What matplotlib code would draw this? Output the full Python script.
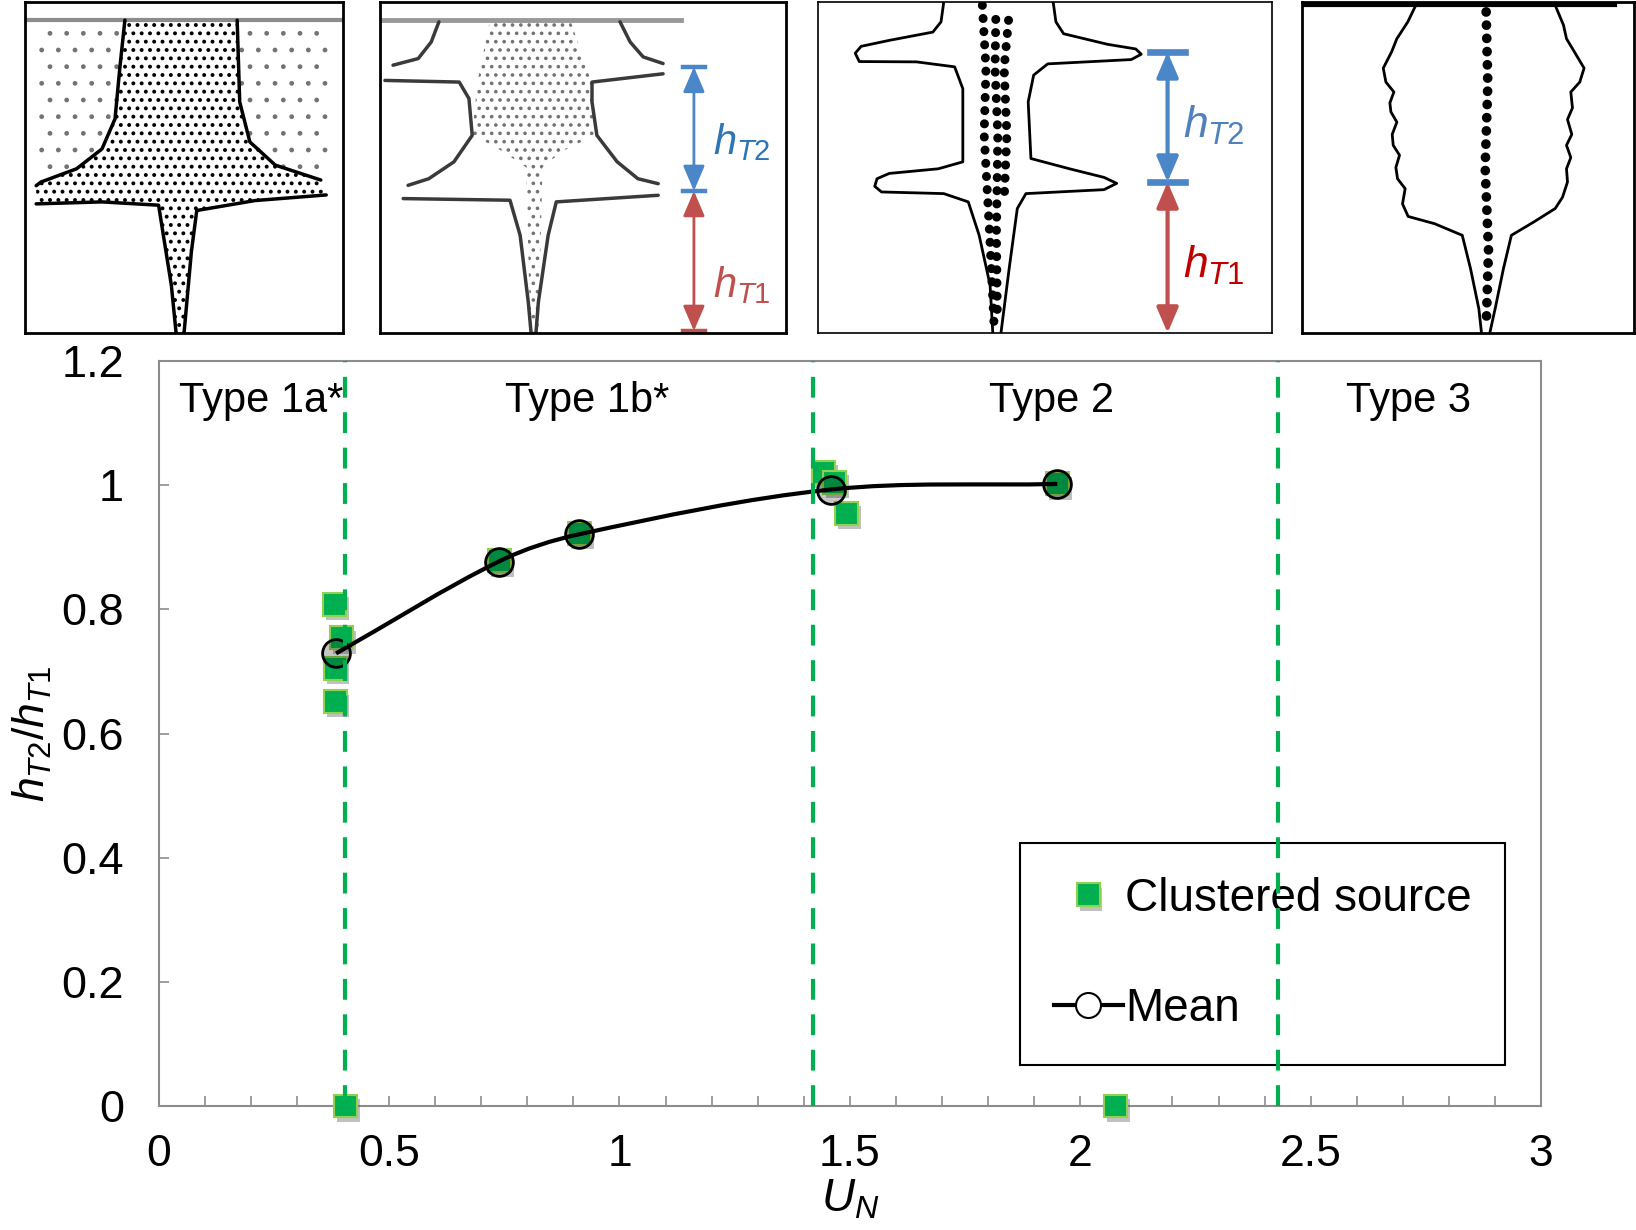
import numpy as np
import matplotlib.pyplot as plt
from matplotlib.ticker import MultipleLocator
from matplotlib.path import Path
from matplotlib.patches import PathPatch, Polygon
from matplotlib.lines import Line2D
import matplotlib.patheffects as pe

plt.rcParams['font.family'] = ['Liberation Sans', 'DejaVu Sans']
plt.rcParams['mathtext.fontset'] = 'custom'
plt.rcParams['mathtext.it'] = 'Liberation Sans:italic'
plt.rcParams['mathtext.rm'] = 'Liberation Sans'

# --- dane ---
un_cluster = [0.382, 0.397, 0.383, 0.383, 0.405, 0.74, 0.913, 1.443, 1.467, 1.493, 1.95, 2.077]
r_cluster = [0.808, 0.754, 0.705, 0.651, 0.0, 0.878, 0.922, 1.020, 1.005, 0.955, 1.002, 0.0]
un_mean = [0.385, 0.738, 0.913, 1.458, 1.95]
r_mean = [0.729, 0.877, 0.921, 0.993, 1.002]
granice = [0.405, 1.42, 2.43]
typy = ['Type 1a*', 'Type 1b*', 'Type 2', 'Type 3']
typy_x = [0.222, 0.93, 1.937, 2.713]

zielony = '#00B050'
jasnozielony = '#92D050'
niebieski = '#4A86C8'
czerwony = '#C0504D'


def gladka(xs, ys):
    # wygladzona linia (Hermite w x, bez petli)
    x = np.asarray(xs, float)
    y = np.asarray(ys, float)
    n = len(x)
    m = np.empty(n)
    m[0] = (y[1] - y[0]) / (x[1] - x[0])
    m[-1] = (y[-1] - y[-2]) / (x[-1] - x[-2])
    for i in range(1, n - 1):
        m[i] = (y[i + 1] - y[i - 1]) / (x[i + 1] - x[i - 1])
    verts = [(x[0], y[0])]
    codes = [Path.MOVETO]
    for i in range(n - 1):
        d = (x[i + 1] - x[i]) / 3.0
        verts += [(x[i] + d, y[i] + m[i] * d), (x[i + 1] - d, y[i + 1] - m[i + 1] * d),
                  (x[i + 1], y[i + 1])]
        codes += [Path.CURVE4] * 3
    return Path(verts, codes)


fig = plt.figure(figsize=(16.36, 12.30), dpi=100)

# ---------------- glowny wykres ----------------
ax = fig.add_axes([0.097, 0.1008, 0.845, 0.6057])
ax.set_xlim(0, 3)
ax.set_ylim(0, 1.2)

for g in granice:
    ax.axvline(g, color=zielony, lw=3, ls=(0, (5, 3.5)), zorder=6)

cien = [pe.SimplePatchShadow(offset=(2, -3), shadow_rgbFace='0.3', alpha=0.35), pe.Normal()]
kw, = ax.plot(un_cluster, r_cluster, ls='none', marker='s', ms=16.5, mfc=zielony,
              mec=jasnozielony, mew=1.5, zorder=3, clip_on=False, path_effects=cien,
              label='Clustered source')
ax.add_patch(PathPatch(gladka(un_mean, r_mean), fc='none', ec='k', lw=3, zorder=4))
ax.plot(un_mean, r_mean, ls='none', marker='o', ms=20, mfc=(0, 0, 0, 0.22),
        mec='k', mew=2, zorder=5)

for t, x in zip(typy, typy_x):
    ax.text(x, 1.136, t, ha='center', va='center', fontsize=30)

ax.set_xticks([0, 0.5, 1, 1.5, 2, 2.5, 3])
ax.set_xticklabels(['0', '0.5', '1', '1.5', '2', '2.5', '3'])
ax.xaxis.set_minor_locator(MultipleLocator(0.1))
ax.set_yticks([0, 0.2, 0.4, 0.6, 0.8, 1.0, 1.2])
ax.set_yticklabels(['0', '0.2', '0.4', '0.6', '0.8', '1', '1.2'])
ax.tick_params(axis='x', which='both', direction='in', length=7, width=1.2,
               color='#8c8c8c', labelsize=32, pad=20)
ax.tick_params(axis='y', which='major', direction='in', length=7, width=1.2,
               color='#8c8c8c', labelsize=32.5, pad=25)
for s in ax.spines.values():
    s.set_color('#8c8c8c')
    s.set_linewidth(1.5)

ax.set_xlabel(r'$U_N$', fontsize=33, labelpad=2)
ax.set_ylabel(r'$h_{\mathit{T2}}/h_{\mathit{T1}}$', fontsize=32, labelpad=5)

sred = Line2D([], [], color='k', lw=3, marker='o', ms=18, mfc='white', mec='k', mew=1.5)
leg = ax.legend([kw, sred], ['Clustered source', 'Mean'], loc='upper left',
                bbox_to_anchor=(0.623, 0.353), fontsize=33, frameon=True,
                fancybox=False, edgecolor='k', framealpha=1, labelspacing=1.45,
                handlelength=1.5, handletextpad=0.05, borderpad=0.74, borderaxespad=0)
leg.get_frame().set_linewidth(1.5)
leg.set_zorder(5.5)

# ---------------- szkice u gory ----------------
def panel(rect, lw):
    a = fig.add_axes(rect)
    a.set_xlim(0, 1)
    a.set_ylim(0, 1)
    a.set_xticks([])
    a.set_yticks([])
    for s in a.spines.values():
        s.set_linewidth(lw)
        s.set_color('k')
    return a


def linia(a, pts, c='k', lw=2.5):
    pts = np.array(pts)
    a.plot(pts[:, 0], pts[:, 1], color=c, lw=lw, solid_joinstyle='round',
           solid_capstyle='round')


def strzalki(a, x, y_top, y_mid, y_bot, pol, lw, cap_bot):
    a.annotate('', xy=(x, y_top), xytext=(x, y_mid),
               arrowprops=dict(arrowstyle='<|-|>,head_length=0.7,head_width=0.3',
                               color=niebieski, lw=lw, shrinkA=0, shrinkB=0,
                               mutation_scale=22))
    a.annotate('', xy=(x, y_mid), xytext=(x, y_bot),
               arrowprops=dict(arrowstyle='<|-|>,head_length=0.7,head_width=0.3',
                               color=czerwony, lw=lw, shrinkA=0, shrinkB=0,
                               mutation_scale=22))
    a.plot([x - pol, x + pol], [y_top, y_top], color=niebieski, lw=lw * 1.6)
    a.plot([x - pol, x + pol], [y_mid, y_mid], color=niebieski, lw=lw * 1.6)
    if cap_bot:
        a.plot([x - pol, x + pol], [y_bot, y_bot], color=czerwony, lw=lw * 1.6)


# panel 1: Type 1a
p1 = panel([0.0153, 0.7293, 0.1944, 0.2691], 2)
p1.plot([0, 1], [0.947, 0.947], color='0.55', lw=3)
p1.add_patch(Polygon([(0.04, 0.47), (0.96, 0.47), (0.96, 0.93), (0.04, 0.93)],
                     fc='white', ec='0.45', lw=0, hatch='.'))
lewa_gora = [(0.314, 0.945), (0.298, 0.80), (0.283, 0.647), (0.242, 0.556),
             (0.162, 0.496), (0.05, 0.456), (0.035, 0.445)]
lewa_dol = [(0.035, 0.39), (0.242, 0.396), (0.42, 0.386), (0.435, 0.295),
            (0.46, 0.145), (0.475, 0.0)]
prawa_dol = [(0.5, 0.0), (0.523, 0.245), (0.54, 0.37), (0.723, 0.40), (0.947, 0.417)]
prawa_gora = [(0.93, 0.462), (0.787, 0.507), (0.707, 0.577), (0.675, 0.698), (0.667, 0.945)]
with plt.rc_context({'hatch.linewidth': 1.6}):
    p1.add_patch(Polygon(lewa_gora + lewa_dol + prawa_dol + prawa_gora,
                         fc='white', ec='k', lw=0, hatch='..'))
for l in (lewa_gora, lewa_dol, prawa_dol, prawa_gora):
    linia(p1, l)

# panel 2: Type 1b
p2 = panel([0.2323, 0.7293, 0.2482, 0.2691], 2)
p2.plot([0, 0.741], [0.945, 0.945], color='0.6', lw=3.5)
with plt.rc_context({'hatch.linewidth': 1.4}):
    p2.add_patch(Polygon([(0.27, 0.94), (0.47, 0.94), (0.52, 0.76), (0.534, 0.60),
                          (0.45, 0.55), (0.40, 0.50), (0.39, 0.0), (0.37, 0.0),
                          (0.36, 0.50), (0.30, 0.55), (0.227, 0.60), (0.24, 0.76)],
                         fc='white', ec='0.45', lw=0, hatch='..'))
for l in ([(0.145, 0.94), (0.126, 0.879), (0.094, 0.829), (0.032, 0.809)],
          [(0.591, 0.94), (0.616, 0.879), (0.648, 0.834), (0.697, 0.814)],
          [(0.012, 0.763), (0.195, 0.758), (0.219, 0.708), (0.227, 0.597),
           (0.182, 0.517), (0.12, 0.466), (0.069, 0.446)],
          [(0.697, 0.783), (0.522, 0.758), (0.522, 0.698), (0.534, 0.597),
           (0.584, 0.517), (0.635, 0.466), (0.685, 0.451)],
          [(0.057, 0.406), (0.32, 0.401), (0.345, 0.295), (0.365, 0.094), (0.372, 0.0)],
          [(0.685, 0.416), (0.434, 0.396), (0.414, 0.295), (0.39, 0.094), (0.384, 0.0)]):
    linia(p2, l, c='#3a3a3a')
strzalki(p2, 0.773, 0.804, 0.429, 0.006, 0.028, 2, True)
p2.text(0.82, 0.577, r'$h_{\mathit{T2}}$', color='#2E75B6', fontsize=30, va='center')
p2.text(0.82, 0.145, r'$h_{\mathit{T1}}$', color=czerwony, fontsize=30, va='center')

# panel 3: Type 2
p3 = panel([0.5, 0.7293, 0.2775, 0.2691], 1.2)
linia(p3, [(0.277, 1.0), (0.271, 0.94), (0.253, 0.909), (0.157, 0.884), (0.095, 0.866),
           (0.082, 0.845), (0.091, 0.82), (0.217, 0.819), (0.301, 0.804), (0.319, 0.738),
           (0.319, 0.517), (0.265, 0.496), (0.157, 0.482), (0.13, 0.466), (0.125, 0.443),
           (0.14, 0.426), (0.277, 0.421), (0.331, 0.396), (0.355, 0.295), (0.379, 0.145),
           (0.385, 0.0)], lw=2)
linia(p3, [(0.518, 1.0), (0.524, 0.94), (0.541, 0.904), (0.638, 0.872), (0.7, 0.858),
           (0.712, 0.842), (0.69, 0.826), (0.506, 0.813), (0.475, 0.779), (0.463, 0.698),
           (0.469, 0.527), (0.554, 0.496), (0.63, 0.47), (0.658, 0.452), (0.63, 0.433),
           (0.458, 0.421), (0.439, 0.376), (0.421, 0.194), (0.403, 0.0)], lw=2)
kropki = dict(color='k', lw=6.5, ls=(0, (0.01, 1.45)), dash_capstyle='round')
p3.plot([0.362, 0.37, 0.366, 0.378, 0.388], [0.99, 0.8, 0.6, 0.3, 0.02], **kropki)
p3.plot([0.392, 0.39, 0.396, 0.393, 0.395], [0.985, 0.8, 0.6, 0.3, 0.05],
        **{**kropki, 'ls': (3, (0.01, 1.45))})
p3.plot([0.422, 0.41, 0.416, 0.41], [0.98, 0.8, 0.6, 0.4], **{**kropki, 'ls': (6, (0.01, 1.45))})
strzalki(p3, 0.77, 0.849, 0.456, 0.0, 0.039, 3, False)
p3.text(0.805, 0.627, r'$h_{\mathit{T2}}$', color='#4F81BD', fontsize=32, va='center')
p3.text(0.805, 0.205, r'$h_{\mathit{T1}}$', color='#C00000', fontsize=32, va='center')

# panel 4: Type 3
p4 = panel([0.7958, 0.7293, 0.2029, 0.2691], 2)
p4.plot([0.0, 0.943], [0.99, 0.99], color='k', lw=3)
linia(p4, [(0.343, 0.99), (0.319, 0.94), (0.286, 0.889), (0.27, 0.849), (0.245, 0.80),
           (0.253, 0.758), (0.277, 0.728), (0.265, 0.695), (0.268, 0.668), (0.286, 0.637),
           (0.272, 0.6), (0.275, 0.567), (0.294, 0.537), (0.283, 0.5), (0.288, 0.466),
           (0.311, 0.436), (0.303, 0.39), (0.32, 0.352), (0.4, 0.33), (0.483, 0.295),
           (0.508, 0.194), (0.533, 0.073), (0.541, 0.0)], lw=2)
linia(p4, [(0.763, 0.99), (0.788, 0.93), (0.797, 0.889), (0.821, 0.849), (0.85, 0.80),
           (0.837, 0.758), (0.81, 0.728), (0.815, 0.68), (0.8, 0.645), (0.813, 0.6),
           (0.797, 0.567), (0.81, 0.53), (0.797, 0.496), (0.8, 0.456), (0.785, 0.41),
           (0.763, 0.376), (0.698, 0.335), (0.631, 0.295), (0.607, 0.194), (0.582, 0.073),
           (0.566, 0.0)], lw=2)
p4.plot([0.555, 0.56, 0.552, 0.562, 0.555], [0.97, 0.75, 0.5, 0.25, 0.015],
        color='k', lw=7, ls=(0, (0.01, 1.35)), dash_capstyle='round')

fig.savefig('out.png', dpi=100)
